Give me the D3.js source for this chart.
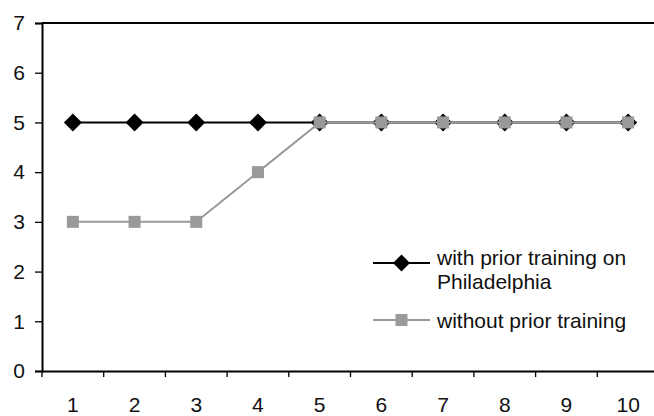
<!DOCTYPE html>
<html>
<head>
<meta charset="utf-8">
<script src="https://cdn.jsdelivr.net/npm/d3@7"></script>
<style>
  html, body { margin: 0; padding: 0; background: #fff; }
  svg { display: block; font-family: "Liberation Sans", Arial, sans-serif; }
</style>
</head>
<body>
<svg id="chart" width="654" height="416"></svg>
<script>
// Trials along the x axis and the two series plotted against them
const trials = [1, 2, 3, 4, 5, 6, 7, 8, 9, 10];
const withTraining = [5, 5, 5, 5, 5, 5, 5, 5, 5, 5];
const withoutTraining = [3, 3, 3, 4, 5, 5, 5, 5, 5, 5];
const yTicks = [0, 1, 2, 3, 4, 5, 6, 7];
const seriesNames = ["with prior training on Philadelphia", "without prior training"];

const svg = d3.select("#chart");
const plotLeft = 42, plotRight = 659, plotTop = 23, plotBottom = 371;
const fontSize = 21;

const x = d3.scaleBand().domain(trials).range([plotLeft, plotRight]).padding(0);
const y = d3.scaleLinear().domain([0, 7]).range([plotBottom, plotTop]);
const cx = d => x(d) + x.bandwidth() / 2;

// top edge of plot area
svg.append("line")
  .attr("x1", plotLeft).attr("x2", plotRight)
  .attr("y1", y(7)).attr("y2", y(7))
  .attr("stroke", "#000").attr("stroke-width", 2);

// y axis
const yAxis = svg.append("g")
  .attr("transform", `translate(${plotLeft},0)`)
  .call(d3.axisLeft(y).tickValues(yTicks).tickFormat(d3.format("d")).tickSize(7).tickPadding(10));
yAxis.select(".domain").attr("stroke-width", 2);
yAxis.selectAll(".tick line").attr("stroke-width", 1.3);
yAxis.selectAll("text").attr("font-size", fontSize).attr("fill", "#111")
  .attr("font-family", "Liberation Sans, Arial, sans-serif");

// x axis, ticks at category boundaries
const xAxis = svg.append("g")
  .attr("transform", `translate(0,${plotBottom})`)
  .call(d3.axisBottom(x).tickSize(0).tickPadding(26));
xAxis.select(".domain").attr("stroke-width", 2);
xAxis.selectAll("text").attr("font-size", fontSize).attr("fill", "#111")
  .attr("font-family", "Liberation Sans, Arial, sans-serif");
xAxis.selectAll(".bound")
  .data(trials)
  .enter().append("line")
  .attr("x1", d => x(d)).attr("x2", d => x(d))
  .attr("y1", 0).attr("y2", 6)
  .attr("stroke", "#000").attr("stroke-width", 1.3);

const line = d3.line().x((d, i) => cx(trials[i])).y(d => y(d));

function diamondPath(cxv, cyv, r) {
  return `M${cxv},${cyv - r}L${cxv + r},${cyv}L${cxv},${cyv + r}L${cxv - r},${cyv}Z`;
}

// series 1: black line with diamonds
svg.append("path").datum(withTraining)
  .attr("d", line).attr("fill", "none")
  .attr("stroke", "#000").attr("stroke-width", 2);
svg.selectAll(".dia").data(withTraining).enter().append("path")
  .attr("d", (d, i) => diamondPath(cx(trials[i]), y(d), 9))
  .attr("fill", "#000");

// series 2: gray line with squares
svg.append("path").datum(withoutTraining)
  .attr("d", line).attr("fill", "none")
  .attr("stroke", "#999").attr("stroke-width", 2);
svg.selectAll(".sq").data(withoutTraining).enter().append("rect")
  .attr("x", (d, i) => cx(trials[i]) - 6)
  .attr("y", d => y(d) - 6)
  .attr("width", 12).attr("height", 12)
  .attr("fill", "#999");

// legend
const lg = svg.append("g");
lg.append("line").attr("x1", 373).attr("x2", 430).attr("y1", 263).attr("y2", 263)
  .attr("stroke", "#000").attr("stroke-width", 2);
lg.append("path").attr("d", diamondPath(401.5, 263, 8.5)).attr("fill", "#000");
const t1 = lg.append("text").attr("x", 437).attr("y", 265).attr("font-size", fontSize).attr("fill", "#111");
t1.append("tspan").attr("x", 437).text("with prior training on");
t1.append("tspan").attr("x", 437).attr("dy", 23.5).text("Philadelphia");

lg.append("line").attr("x1", 373).attr("x2", 430).attr("y1", 320).attr("y2", 320)
  .attr("stroke", "#999").attr("stroke-width", 2);
lg.append("rect").attr("x", 395.5).attr("y", 314).attr("width", 12).attr("height", 12).attr("fill", "#999");
lg.append("text").attr("x", 437).attr("y", 328).attr("font-size", fontSize).attr("fill", "#111")
  .text(seriesNames[1]);
</script>
</body>
</html>
